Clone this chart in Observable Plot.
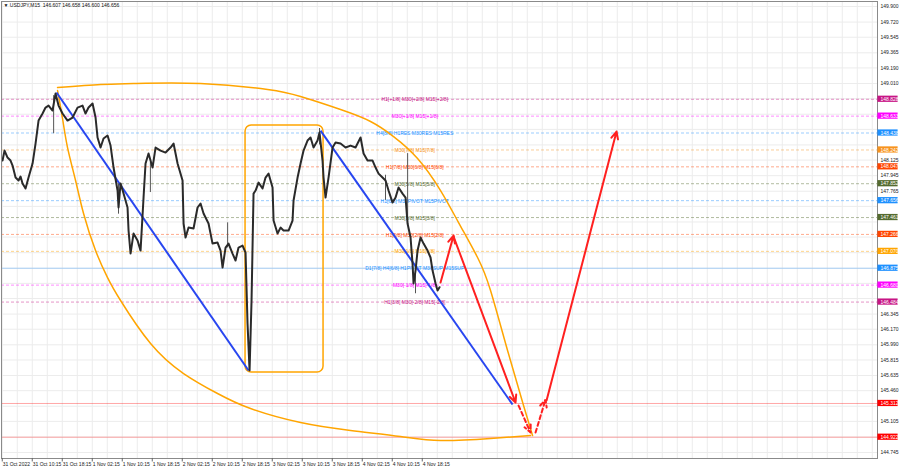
<!DOCTYPE html>
<html><head><meta charset="utf-8">
<script src="https://cdn.jsdelivr.net/npm/d3@7"></script>
<script src="https://cdn.jsdelivr.net/npm/@observablehq/plot@0.6"></script>
<style>
html,body{margin:0;padding:0;background:#fff;}
#chart{width:900px;height:468px;overflow:hidden}
</style></head><body><div id="chart"></div>
<script>
// Time axis: hours since 31 Oct 2022 02:15 (USDJPY M15)
const pathHours = [0.08,0.61,1.41,2.21,2.75,3.55,4.35,4.88,5.41,6.21,7.01,8.08,8.88,9.68,10.75,11.55,12.35,13.41,14.21,15.01,16.08,17.41,18.75,20.08,21.41,22.21,23.01,24.08,24.88,25.41,26.21,27.01,28.08,28.88,29.68,30.75,31.01,31.55,32.35,33.41,33.68,34.21,35.01,36.08,36.88,37.68,38.21,39.01,40.08,40.88,42.21,43.55,44.88,45.68,46.75,48.08,48.35,48.88,49.68,51.01,52.08,52.88,53.68,55.01,56.08,57.41,58.21,58.75,59.55,60.35,61.41,62.21,63.01,64.08,64.88,65.41,65.95,66.48,67.01,67.55,68.35,69.41,70.21,71.01,72.08,72.35,73.41,74.21,75.01,76.35,77.41,77.68,78.75,79.55,80.35,81.41,82.21,83.01,84.08,84.61,85.41,85.68,86.21,87.01,88.08,88.88,90.21,91.55,92.88,94.21,95.55,96.35,97.41,98.75,99.55,100.35,101.41,102.21,103.01,104.08,104.88,105.68,106.75,107.55,108.08,108.88,109.41,109.68,110.21,110.75,111.55,112.35,113.41,114.21,114.75,115.55,116.08,116.61];
const pathPrices = [148.120,148.235,148.154,148.120,148.062,147.923,147.889,147.935,147.854,147.796,147.923,148.085,148.316,148.582,148.663,148.732,148.755,148.698,148.894,148.755,148.663,148.582,148.617,148.732,148.755,148.663,148.732,148.779,148.617,148.386,148.270,148.374,148.409,148.293,148.039,147.773,147.577,147.854,147.738,147.577,147.311,147.045,147.276,147.195,147.079,147.692,148.085,148.201,148.039,148.270,148.235,148.212,148.270,148.316,148.085,147.889,147.392,147.230,147.345,147.334,147.577,147.623,147.507,147.392,147.160,147.172,147.079,146.883,147.114,147.160,147.045,146.964,147.114,147.137,147.056,146.235,145.693,146.502,147.738,147.773,147.865,147.796,147.923,147.969,147.808,147.426,147.276,147.345,147.311,147.311,147.426,147.658,147.923,148.085,148.235,148.351,148.386,148.270,148.351,148.443,148.120,147.923,147.692,147.923,148.270,148.328,148.316,148.270,148.293,148.270,148.386,148.201,148.120,148.120,148.039,147.969,147.923,147.889,147.773,147.634,147.692,147.808,147.738,147.692,147.392,147.230,146.929,146.698,146.848,147.079,147.230,147.160,147.079,146.999,146.848,146.698,146.617,146.656];

const wickHours = [13.7, 31.0, 39.5, 60.1, 84.6, 102.2, 108.1, 110.2];
const wickHigh  = [148.87, 147.85, 148.10, 147.40, 148.49, 147.95, 148.20, 146.90];
const wickLow   = [148.43, 147.50, 147.75, 147.11, 148.30, 147.66, 147.37, 146.58];

// Murrey-math levels
const levelPrices = [148.828,148.633,148.438,148.242,148.047,147.852,147.656,147.461,147.266,147.070,146.875,146.680,146.484,145.312,144.922];
const levelLabels = ["H1[+1/8] M30[+2/8] M15[+2/8]","M30[+1/8] M15[+1/8]","H4[8/8] H1RES M30RES M15RES","M30[7/8] M15[7/8]","H1[7/8] M30[6/8] M15[6/8]","M30[5/8] M15[5/8]","H1[6/8] M30PIVOT M15PIVOT","M30[3/8] M15[3/8]","H1[5/8] M30[2/8] M15[2/8]","M30[1/8] M15[1/8]","D1[7/8] H4[6/8] H1PIVOT M30SUP M15SUP","M30[-1/8] M15[-1/8]","H1[3/8] M30[-2/8] M15[-2/8]","",""];
const levelColors = ["#c71585","#ff00ff","#1e90ff","#f7931e","#ff4500","#556b2f","#1e90ff","#556b2f","#ff4500","#ffa500","#1e90ff","#ff00ff","#c71585","#ff0000","#ff0000"];
const levelSolid  = [false,false,false,false,false,false,false,false,false,false,true,false,false,true,true];
const levelLabelHour = 110;

// Trend lines (blue)
const trendStartHour = [14.48, 84.88];
const trendStartPrice = [148.906, 148.466];
const trendEndHour = [65.68, 136.08];
const trendEndPrice = [145.693, 145.300];

// Rounded box
const boxHours = [64.88, 85.68];
const boxPrices = [145.669, 148.524];

// Arc (orange)
const upperArcHours = [14.75,26.21,35.01,52.88,70.75,79.55,90.21,98.21,104.35,110.75,116.88,121.68,126.75,130.21,134.75,139.01,141.41];
const upperArcPrices = [148.963,148.998,149.010,149.010,148.940,148.859,148.709,148.571,148.397,148.143,147.773,147.403,146.999,146.617,145.924,145.288,144.941];
const lowerArcHours = [14.75,16.08,17.41,19.55,21.68,24.88,28.08,31.55,39.55,48.35,57.41,66.21,79.55,92.88,106.21,116.88,130.21,140.88];
const lowerArcPrices = [148.929,148.605,148.270,147.889,147.507,147.079,146.767,146.502,146.005,145.658,145.427,145.253,145.091,144.999,144.930,144.884,144.907,144.941];

// Forecast arrows (red)
const arrowFromHour = [116.88,120.35,137.68,142.21,145.15];
const arrowFromPrice = [146.710,147.241,145.288,144.976,145.346];
const arrowToHour = [120.35,136.88,140.88,144.88,163.81];
const arrowToPrice = [147.253,145.323,144.976,145.357,148.455];
const arrowDashed = [false,false,true,true,false];

// Axes
const yTickValues = [149.900,149.720,149.545,149.365,149.190,149.010,148.835,148.655,148.480,148.300,148.125,147.945,147.765,147.590,147.410,147.235,147.055,146.875,146.700,146.525,146.345,146.170,145.990,145.815,145.635,145.460,145.280,145.105,144.925,144.745];
const xTickHours = [0,8,16,24,32,40,48,56,64,72,80,88,96,104,112];
const xTickLabels = ["31 Oct 2022","31 Oct 10:15","31 Oct 18:15","1 Nov 02:15","1 Nov 10:15","1 Nov 18:15","2 Nov 02:15","2 Nov 10:15","2 Nov 18:15","3 Nov 02:15","3 Nov 10:15","3 Nov 18:15","4 Nov 02:15","4 Nov 10:15","4 Nov 18:15"];
const headerText = "▼ USDJPY,M15  146.607 146.658 146.600 146.656";

// ---- build tables
const path = d3.zip(pathHours, pathPrices).map(([h,p]) => ({h,p}));
const wicks = wickHours.map((h,i) => ({h, hi: wickHigh[i], lo: wickLow[i]}));
const levels = levelPrices.map((p,i) => ({p, label: levelLabels[i], color: levelColors[i], solid: levelSolid[i]}));
const trends = trendStartHour.map((h,i) => ({h1: h, p1: trendStartPrice[i], h2: trendEndHour[i], p2: trendEndPrice[i]}));
const upperArc = d3.zip(upperArcHours, upperArcPrices).map(([h,p]) => ({h,p}));
const lowerArc = d3.zip(lowerArcHours, lowerArcPrices).map(([h,p]) => ({h,p}));
const arrows = arrowFromHour.map((h,i) => ({h1: h, p1: arrowFromPrice[i], h2: arrowToHour[i], p2: arrowToPrice[i], dashed: arrowDashed[i]}));
const xTicks = xTickHours.map((h,i) => ({h, label: xTickLabels[i]}));
// tick labels hidden behind the coloured price boxes are not shown
const visibleTicks = yTickValues.filter(t => levelPrices.every(p => Math.abs(t - p) > 0.075));

const xDomain = [-0.2, 233.4];
const yDomain = [144.676, 149.958];
const gridHours = d3.range(0, 234, 4);
const axisHour = 234.2;      // label column on the right
const boxHour1 = 233.5, boxHour2 = 238.9;
const FONT = "'Liberation Sans', Arial, sans-serif";

const chart = Plot.plot({
  width: 900, height: 468,
  marginLeft: 1, marginRight: 23, marginTop: 1, marginBottom: 10,
  x: {type: "linear", domain: xDomain, axis: null},
  y: {type: "linear", domain: yDomain, axis: null},
  style: {background: "#fff", fontFamily: FONT, fontSize: "5px", overflow: "visible"},
  marks: [
    Plot.ruleX(gridHours, {stroke: "#ececec", strokeWidth: 1}),
    Plot.ruleY(yTickValues, {stroke: "#ececec", strokeWidth: 1}),
    Plot.ruleY(levels.filter(d => !d.solid), {y: "p", stroke: "color", strokeOpacity: 0.45, strokeDasharray: "3,2"}),
    Plot.ruleY(levels.filter(d => d.solid), {y: "p", stroke: "color", strokeOpacity: 0.35}),
    Plot.text(levels.filter(d => d.label), {x: levelLabelHour, y: "p", text: "label", fill: "color", fontSize: 5, dy: 0.5}),
    Plot.rect([0], {x1: boxHours[0], x2: boxHours[1], y1: boxPrices[0], y2: boxPrices[1], fill: "none", stroke: "#ffa500", strokeWidth: 1.5, rx: 6}),
    Plot.line(upperArc, {x: "h", y: "p", stroke: "#ffa500", strokeWidth: 1.5, curve: "natural"}),
    Plot.line(lowerArc, {x: "h", y: "p", stroke: "#ffa500", strokeWidth: 1.5, curve: "natural"}),
    Plot.link(trends, {x1: "h1", y1: "p1", x2: "h2", y2: "p2", stroke: "#2846f0", strokeWidth: 2}),
    Plot.ruleX(wicks, {x: "h", y1: "lo", y2: "hi", stroke: "#555", strokeWidth: 1}),
    Plot.line(path, {x: "h", y: "p", stroke: "#2a2a2a", strokeWidth: 2}),
    Plot.arrow(arrows.filter(d => !d.dashed), {x1: "h1", y1: "p1", x2: "h2", y2: "p2", stroke: "#ff2020", strokeWidth: 2, headLength: 6, headAngle: 50}),
    Plot.arrow(arrows.filter(d => d.dashed), {x1: "h1", y1: "p1", x2: "h2", y2: "p2", stroke: "#ff2020", strokeWidth: 2, headLength: 6, headAngle: 50, strokeDasharray: "4,3"}),
    Plot.frame({stroke: "#8a8a8a"}),
    // right price axis
    Plot.text(visibleTicks, {x: axisHour, y: d => d, text: d => d.toFixed(3), textAnchor: "start", fill: "#222", fontSize: 5}),
    Plot.rect(levels, {x1: boxHour1, x2: boxHour2, y1: d => d.p - 0.036, y2: d => d.p + 0.036, fill: "color"}),
    Plot.text(levels, {x: axisHour, y: "p", text: d => d.p.toFixed(3), textAnchor: "start", fill: "white", fontSize: 5}),
    // bottom time axis
    Plot.ruleX(xTickHours, {y1: yDomain[0], y2: yDomain[0] - 0.04, stroke: "#666"}),
    Plot.text(xTicks, {x: "h", text: "label", frameAnchor: "bottom", lineAnchor: "middle", dy: 6, dx: 0.5, textAnchor: "start", fill: "#222", fontSize: 5}),
    // header
    Plot.text([headerText], {text: d => d, frameAnchor: "top-left", lineAnchor: "middle", dx: 2, dy: 4, textAnchor: "start", fill: "#111", fontSize: 5})
  ]
});
document.getElementById("chart").appendChild(chart);
</script>
</body></html>
